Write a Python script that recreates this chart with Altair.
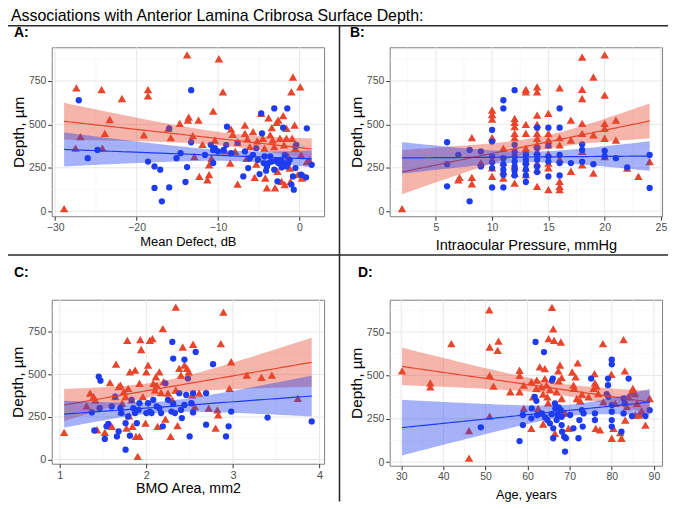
import altair as alt
import pandas as pd
import numpy as np

RED = "#E8452C"
BLUE = "#1E3CEF"
FONT = "Liberation Sans"

TITLE = "Associations with Anterior Lamina Cribrosa Surface Depth:"
Y_TITLE = "Depth, µm"

# ---- Panel A: Mean Defect (dB) vs depth ----
a_red = [(-28.9, 15), (-27.4, 710), (-26.9, 430), (-27.5, 363), (-24.3, 700), (-23.9, 448), (-23.3, 528),
         (-24.2, 363), (-21.8, 649), (-18.6, 700), (-18.6, 664), (-19.1, 439), (-16.1, 477), (-15.8, 424),
         (-14.7, 506), (-13.8, 900), (-13.6, 542), (-13.7, 525), (-13.1, 435), (-12.4, 525), (-12.9, 315),
         (-12.3, 200), (-11.9, 385), (-11.3, 181), (-11.1, 210), (-11.1, 267), (-10.8, 305), (-10.6, 576),
         (-10.4, 410), (-9.9, 878), (-9.4, 687), (-9.2, 347), (-8.5, 277), (-8.4, 473), (-8.2, 443),
         (-7.9, 344), (-7.6, 397), (-7.6, 156), (-6.7, 496), (-6.7, 448), (-6.4, 416), (-6.1, 372),
         (-6.5, 305), (-5.7, 458), (-5.5, 195), (-5.3, 271), (-5.2, 405), (-4.7, 563), (-4.5, 420),
         (-4.3, 363), (-4.2, 191), (-4.0, 134), (-3.8, 538), (-3.6, 439), (-3.4, 481), (-3.3, 410),
         (-3.1, 372), (-3.0, 134), (-2.8, 511), (-2.7, 229), (-2.6, 525), (-2.4, 420), (-2.2, 286),
         (-2.2, 172), (-2.0, 550), (-1.9, 382), (-1.8, 153), (-1.6, 477), (-1.6, 420), (-1.4, 315),
         (-1.2, 248), (-1.1, 172), (-1.0, 687), (-0.9, 420), (-0.8, 773), (-0.6, 496), (-0.5, 363),
         (-0.2, 210), (0.1, 716), (0.2, 324), (0.3, 191), (0.6, 200), (0.9, 286), (1.2, 296)]
a_blue = [(-27.1, 639), (-26.0, 305), (-24.8, 353), (-18.6, 286), (-17.8, 258), (-17.1, 239), (-17.8, 134),
          (-16.9, 57), (-16.0, 477), (-16.0, 137), (-15.1, 305), (-14.6, 334), (-14.0, 168), (-13.8, 254),
          (-13.3, 697), (-13.3, 397), (-11.6, 324), (-10.9, 382), (-10.6, 353), (-10.4, 363), (-10.6, 277),
          (-10.0, 344), (-8.9, 487), (-9.0, 382), (-9.3, 353), (-8.4, 334), (-7.6, 395), (-6.9, 200),
          (-6.7, 344), (-6.3, 248), (-6.1, 305), (-5.7, 324), (-5.3, 363), (-5.1, 296), (-4.9, 214),
          (-4.7, 563), (-4.6, 448), (-4.4, 277), (-4.3, 315), (-4.1, 233), (-4.0, 258), (-3.8, 277),
          (-3.6, 315), (-3.4, 286), (-3.1, 592), (-3.1, 239), (-2.9, 290), (-2.7, 172), (-2.6, 277),
          (-2.3, 296), (-2.2, 252), (-2.0, 481), (-1.9, 277), (-1.8, 324), (-1.6, 258), (-1.5, 592),
          (-1.4, 277), (-1.2, 296), (-1.0, 153), (-0.8, 200), (-0.7, 124), (-0.5, 248), (-0.4, 382),
          (0.2, 210), (0.8, 195), (0.9, 477), (1.5, 267), (-0.5, 372)]

# ---- Panel B: Intraocular pressure (mmHg) vs depth ----
b_red = [(2, 15), (7.0, 181), (7.1, 195), (8.2, 424), (8.2, 195), (8.2, 158), (10, 582), (10, 557), (10, 530),
         (10, 424), (11, 363), (11, 191), (12, 534), (12, 511), (12, 487), (12, 448), (12, 424), (12, 162),
         (13, 702), (13, 687), (13, 500), (13, 448), (13, 363), (14, 716), (14, 687), (14, 553), (14, 500),
         (14, 448), (14, 420), (14, 385), (14, 344), (14, 277), (14, 143), (15, 563), (15, 448), (15, 410),
         (15, 382), (15, 277), (15, 124), (16, 710), (16, 424), (16, 382), (16, 172), (16, 143), (16, 124),
         (17, 525), (17, 410), (18, 887), (18, 702), (18, 649), (18, 506), (18, 448), (18, 344), (18, 267),
         (19, 773), (19, 439), (19, 219), (20, 900), (20, 668), (20, 506), (20, 477), (20, 420), (20, 315),
         (21, 525), (21, 410), (22, 248), (23, 200), (24, 286),
         # triangles largely hidden under the circles at integer pressures
         (10, 250), (15, 250), (11, 280), (11, 230), (12, 260), (16, 300), (12, 220), (13, 250), (13, 290),
         (13, 210), (17, 230), (10, 200), (15, 330), (14, 240), (9, 280), (13, 330)]
b_blue = [(6, 397), (6, 271), (6, 143), (7, 324), (8, 57), (8, 353), (9, 344), (9, 258), (10, 468), (10, 401),
          (10, 315), (10, 282), (10, 248), (10, 137), (11, 639), (11, 592), (11, 305), (11, 271), (11, 239),
          (11, 210), (11, 137), (12, 697), (12, 382), (12, 344), (12, 315), (12, 286), (12, 258), (12, 233),
          (12, 206), (13, 328), (13, 296), (13, 271), (13, 239), (13, 206), (13, 168), (14, 481), (14, 363),
          (14, 324), (14, 296), (14, 258), (14, 225), (15, 481), (15, 378), (15, 315), (15, 286), (15, 200),
          (16, 592), (16, 481), (16, 324), (16, 277), (16, 206), (17, 277), (18, 385), (18, 353), (18, 286),
          (19, 271), (20, 347), (20, 315), (21, 305), (22, 252), (24, 324), (24, 134)]

# ---- Panel C: BMO area (mm2) vs depth ----
c_red = [(1.05, 160), (1.31, 316), (1.35, 390), (1.39, 370), (1.41, 351), (1.43, 175), (1.52, 160), (1.58, 452),
         (1.60, 195), (1.65, 561), (1.64, 370), (1.68, 429), (1.70, 438), (1.71, 282), (1.72, 331), (1.74, 399),
         (1.76, 370), (1.78, 701), (1.77, 185), (1.79, 419), (1.80, 257), (1.81, 516), (1.83, 351), (1.84, 195),
         (1.87, 526), (1.88, 136), (1.90, 19), (1.92, 136), (1.92, 448), (1.93, 705), (1.94, 647), (1.96, 370),
         (1.99, 214), (2.00, 516), (2.02, 555), (2.04, 701), (2.07, 711), (2.08, 448), (2.10, 409), (2.11, 487),
         (2.12, 438), (2.13, 195), (2.15, 516), (2.17, 394), (2.19, 770), (2.20, 458), (2.22, 238), (2.25, 390),
         (2.28, 136), (2.30, 351), (2.34, 896), (2.34, 409), (2.36, 199), (2.38, 536), (2.40, 497), (2.42, 662),
         (2.44, 555), (2.47, 536), (2.49, 516), (2.53, 380), (2.54, 678), (2.56, 312), (2.61, 390), (2.72, 302),
         (2.80, 185), (2.82, 292), (2.83, 263), (2.86, 682), (2.89, 867), (2.96, 419), (2.98, 575), (3.16, 497),
         (3.33, 483), (3.45, 497), (3.75, 360)]
c_blue = [(1.37, 277), (1.40, 171), (1.45, 487), (1.47, 464), (1.46, 302), (1.52, 121), (1.54, 195), (1.56, 210),
          (1.60, 312), (1.64, 370), (1.66, 136), (1.68, 166), (1.70, 302), (1.71, 273), (1.76, 58), (1.76, 214),
          (1.79, 253), (1.81, 140), (1.83, 351), (1.85, 302), (1.87, 273), (1.89, 214), (1.91, 292), (1.92, 331),
          (2.00, 273), (2.02, 331), (2.04, 282), (2.06, 273), (2.08, 351), (2.12, 312), (2.15, 302), (2.17, 273),
          (2.19, 195), (2.22, 448), (2.25, 351), (2.29, 282), (2.30, 692), (2.31, 594), (2.31, 327), (2.33, 273),
          (2.38, 390), (2.40, 292), (2.41, 244), (2.44, 588), (2.44, 321), (2.46, 380), (2.48, 477), (2.50, 136),
          (2.52, 331), (2.54, 390), (2.54, 277), (2.57, 633), (2.69, 390), (2.69, 205), (2.77, 561), (2.92, 136),
          (2.95, 195), (2.98, 282), (3.40, 247), (3.91, 224)]

# ---- Panel D: Age (years) vs depth ----
d_red = [(30.2, 526), (36.9, 457), (36.9, 434), (41.9, 683), (46.1, 182), (46.1, 23), (50.9, 878), (51.0, 664),
         (51.0, 501), (51.0, 266), (51.9, 438), (52.9, 645), (53.1, 698), (55.9, 406), (58.1, 530), (58.1, 501),
         (58.1, 406), (59.1, 444), (59.1, 310), (60.9, 195), (60.9, 463), (61.3, 377), (62.1, 425), (62.2, 473),
         (62.5, 310), (62.6, 281), (62.9, 549), (63.3, 434), (63.7, 392), (63.7, 220), (64.1, 539), (64.1, 482),
         (64.5, 444), (64.7, 377), (64.9, 342), (65.0, 712), (65.3, 419), (65.8, 893), (66.1, 769), (66.3, 702),
         (66.5, 166), (66.9, 406), (67.3, 526), (67.4, 469), (67.7, 559), (67.9, 693), (68.1, 488), (68.1, 367),
         (68.3, 281), (68.9, 285), (69.7, 195), (70.6, 520), (70.9, 444), (71.1, 425), (71.4, 492), (71.7, 367),
         (71.9, 572), (72.5, 354), (72.9, 392), (74.5, 377), (75.7, 425), (75.9, 511), (76.0, 457), (76.2, 195),
         (76.4, 438), (76.8, 396), (77.2, 186), (77.9, 683), (78.0, 348), (79.9, 507), (80.0, 138), (80.4, 195),
         (80.8, 339), (82.0, 170), (82.3, 138), (82.8, 706), (83.1, 526), (83.2, 243), (83.6, 320), (84.0, 377),
         (84.7, 406), (85.0, 425), (85.5, 396), (85.6, 272), (86.0, 339), (86.4, 272), (87.1, 297), (87.4, 281),
         (88.0, 214), (89.0, 367)]
d_blue = [(48.9, 201), (58.1, 122), (58.9, 214), (58.9, 272), (60.9, 253), (61.0, 310), (61.7, 377), (61.9, 693),
          (62.1, 354), (62.3, 272), (63.4, 281), (63.9, 635), (64.2, 258), (64.7, 243), (65.3, 224), (65.7, 277),
          (65.8, 469), (66.0, 482), (66.1, 195), (66.1, 138), (66.5, 339), (66.6, 310), (66.9, 243), (67.1, 272),
          (67.4, 316), (67.9, 300), (68.1, 262), (68.1, 214), (68.2, 176), (68.7, 147), (68.9, 61), (69.1, 138),
          (70.1, 272), (70.9, 195), (72.1, 138), (72.3, 243), (72.9, 300), (73.1, 205), (73.3, 281), (75.1, 482),
          (76.0, 281), (76.0, 243), (78.8, 392), (79.1, 444), (79.1, 482), (79.2, 377), (80.0, 591), (80.0, 564),
          (80.0, 329), (80.0, 291), (80.0, 243), (80.0, 205), (82.3, 176), (82.8, 367), (82.8, 281), (83.1, 339),
          (84.0, 482), (84.8, 266), (88.0, 266), (89.0, 300)]

y_ticks = [0, 250, 500, 750]
y_minor = [125, 375, 625, 875]
a_ticks, a_minor = [-30, -20, -10, 0], [-25, -15, -5]
b_ticks, b_minor = [5, 10, 15, 20, 25], [2.5, 7.5, 12.5, 17.5, 22.5]
c_ticks, c_minor = [1, 2, 3, 4], [1.5, 2.5, 3.5]
d_ticks, d_minor = [30, 40, 50, 60, 70, 80, 90], [35, 45, 55, 65, 75, 85]


def lm_band(pts, lo, hi, n=80):
    x = np.array([p[0] for p in pts], float)
    y = np.array([p[1] for p in pts], float)
    b, a = np.polyfit(x, y, 1)
    xs = np.linspace(lo, hi, n)
    fit = a + b * xs
    resid = y - (a + b * x)
    s = np.sqrt((resid ** 2).sum() / (len(x) - 2))
    sxx = ((x - x.mean()) ** 2).sum()
    se = s * np.sqrt(1.0 / len(x) + (xs - x.mean()) ** 2 / sxx)
    t = 1.99
    return pd.DataFrame({"x": xs, "fit": fit, "lo": fit - t * se, "hi": fit + t * se})


def panel(red, blue, xticks, xminor, xtitle, xtsize, lsize, tpad, w, h, label, lx, ly, extra=()):
    allx = [p[0] for p in red + blue]
    ally = [p[1] for p in red + blue]
    xl, xh = min(allx), max(allx)
    yl, yh = min(ally), max(ally)
    xdom = [xl - 0.05 * (xh - xl), xh + 0.05 * (xh - xl)]
    ydom = [yl - 0.05 * (yh - yl), yh + 0.05 * (yh - yl)]
    xsc = alt.Scale(domain=xdom, nice=False, zero=False)
    ysc = alt.Scale(domain=ydom, nice=False, zero=False)
    xax = alt.Axis(values=xticks, title=xtitle, titleFontSize=xtsize, titleFontWeight="normal",
                   titleColor="#000000", titleFont=FONT, labelFont=FONT, labelFontSize=lsize,
                   labelColor="#4D4D4D", tickColor="#333333", tickSize=4, labelPadding=2,
                   titlePadding=tpad, domain=False, grid=False, labelFlush=False, labelOverlap=False)
    yax = alt.Axis(values=y_ticks, title=Y_TITLE, titleFontSize=15.5, titleFontWeight="normal",
                   titleColor="#000000", titleFont=FONT, labelFont=FONT, labelFontSize=lsize,
                   labelColor="#4D4D4D", tickColor="#333333", tickSize=4, labelPadding=2,
                   titlePadding=2, domain=False, grid=False, labelOverlap=False)

    def X(f):
        return alt.X(f, type="quantitative", scale=xsc, axis=xax)

    def Y(f):
        return alt.Y(f, type="quantitative", scale=ysc, axis=yax)

    xmin_in = [v for v in xminor if xdom[0] < v < xdom[1]]
    ymin_in = [v for v in y_minor if ydom[0] < v < ydom[1]]
    xmaj_in = [v for v in xticks if xdom[0] <= v <= xdom[1]]

    layers = [
        alt.Chart(pd.DataFrame({"x": xmin_in})).mark_rule(color="#F3F3F3", strokeWidth=0.6).encode(x=X("x")),
        alt.Chart(pd.DataFrame({"y": ymin_in})).mark_rule(color="#F3F3F3", strokeWidth=0.6).encode(y=Y("y")),
        alt.Chart(pd.DataFrame({"x": xmaj_in})).mark_rule(color="#E8E8E8", strokeWidth=1).encode(x=X("x")),
        alt.Chart(pd.DataFrame({"y": y_ticks})).mark_rule(color="#E8E8E8", strokeWidth=1).encode(y=Y("y")),
        alt.Chart(pd.DataFrame(red, columns=["x", "y"])).mark_point(
            shape="triangle-up", filled=True, size=72, color=RED, opacity=1).encode(x=X("x"), y=Y("y")),
        alt.Chart(pd.DataFrame(blue, columns=["x", "y"])).mark_point(
            shape="circle", filled=True, size=40, color=BLUE, opacity=1).encode(x=X("x"), y=Y("y")),
    ]
    for pts, col in ((red, RED), (blue, BLUE)):
        band = lm_band(pts, xl, xh)
        layers.append(alt.Chart(band).mark_area(color=col, opacity=0.4).encode(
            x=X("x"), y=Y("lo"), y2=alt.Y2("hi")))
        layers.append(alt.Chart(band).mark_line(color=col, strokeWidth=1.2).encode(x=X("x"), y=Y("fit")))
    layers.append(alt.Chart(pd.DataFrame({"t": [label]})).mark_text(
        align="left", baseline="middle", fontSize=14, fontWeight="bold", font=FONT, color="#000000"
    ).encode(x=alt.value(lx), y=alt.value(ly), text="t:N"))
    layers.extend(extra)
    return alt.layer(*layers).properties(width=w, height=h)


one = pd.DataFrame({"t": [TITLE]})
extras_a = [
    # invisible anchor fixing the top-left corner of the whole layout
    alt.Chart(one).mark_rule(opacity=0, strokeWidth=0.1).encode(
        x=alt.value(-46), x2=alt.value(-45.5), y=alt.value(-50), y2=alt.value(-49.5)),
    alt.Chart(one).mark_text(align="left", baseline="alphabetic", fontSize=16, font=FONT, color="#000000").encode(
        x=alt.value(-41), y=alt.value(-26.2), text="t:N"),
    alt.Chart(one).mark_rule(color="#2A2A2A", strokeWidth=1.6).encode(
        x=alt.value(-46), x2=alt.value(620), y=alt.value(-21.7)),
    alt.Chart(one).mark_rule(color="#2A2A2A", strokeWidth=1.6).encode(
        x=alt.value(-46), x2=alt.value(620), y=alt.value(209)),
    alt.Chart(one).mark_rule(color="#2A2A2A", strokeWidth=1.6).encode(
        x=alt.value(289.5), y=alt.value(-21.7), y2=alt.value(457)),
]

pa = panel(a_red, a_blue, a_ticks, a_minor, "Mean Defect, dB", 13, 10.5, 3, 274, 170, "A:", -38, -14, extras_a)
pb = panel(b_red, b_blue, b_ticks, b_minor, "Intraocular Pressure, mmHg", 14.6, 10.5, 5, 274, 170, "B:", -40, -14)
pc = panel(c_red, c_blue, c_ticks, c_minor, "BMO Area, mm2", 14.3, 11, 1, 274, 165, "C:", -38, -27)
pd_ = panel(d_red, d_blue, d_ticks, d_minor, "Age, years", 12.8, 10.5, 6, 274, 167, "D:", -32, -27)

chart = alt.concat(pa, pb, pc, pd_, columns=2, spacing={"row": 84, "column": 66}, bounds="flush").properties(
    padding={"left": -4, "top": -13, "right": 0, "bottom": 0},
    autosize=alt.AutoSizeParams(type="pad"),
).configure(font=FONT).configure_view(stroke="#808080", strokeWidth=1)

chart.save("out.html", embed_options={"renderer": "svg", "actions": False})
